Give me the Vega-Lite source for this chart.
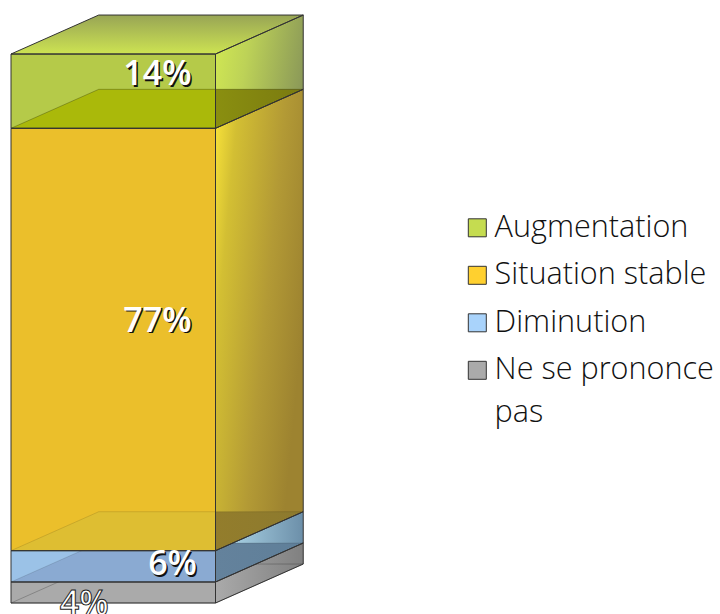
{"$schema":"https://vega.github.io/schema/vega-lite/v6.json","width":720,"height":614,"padding":0,"autosize":{"type":"none"},"background":"white","view":{"stroke":null},
"config":{"style":{"guide-label":{"lineHeight":43}}},
"datasets":{
"bars":[{"segment":"Augmentation","low":86.47,"high":100},{"segment":"Situation stable","low":9.53,"high":86.47},{"segment":"Diminution","low":3.83,"high":9.53},{"segment":"Ne se prononce pas","low":0,"high":3.83}],
"sides":[
{"segment":"Ne se prononce pas","x":1,"low":0,"high":3.83},{"segment":"Ne se prononce pas","x":1.429,"low":7.1,"high":10.93},
{"segment":"Diminution","x":1,"low":3.83,"high":9.53},{"segment":"Diminution","x":1.429,"low":10.93,"high":16.63},
{"segment":"Situation stable","x":1,"low":9.53,"high":86.47},{"segment":"Situation stable","x":1.429,"low":16.63,"high":93.57},
{"segment":"Augmentation","x":1,"low":86.47,"high":100},{"segment":"Augmentation","x":1.429,"low":93.57,"high":107.1}],
"levels":[
{"level":"sol","y":0,"x":0,"x2":1},{"level":"sol","y":7.1,"x":0.429,"x2":1.429},
{"level":"gris","y":3.83,"x":0,"x2":1},{"level":"gris","y":10.93,"x":0.429,"x2":1.429},
{"level":"bleu","y":9.53,"x":0,"x2":1},{"level":"bleu","y":16.63,"x":0.429,"x2":1.429},
{"level":"jaune","y":86.47,"x":0,"x2":1},{"level":"jaune","y":93.57,"x":0.429,"x2":1.429},
{"level":"vert","y":100,"x":0,"x2":1},{"level":"vert","y":107.1,"x":0.429,"x2":1.429}],
"labels":[{"segment":"Augmentation","label":"14%","x":0.716,"y":96.1},{"segment":"Situation stable","label":"77%","x":0.716,"y":51.2},{"segment":"Diminution","label":"6%","x":0.79,"y":6.9},{"segment":"Ne se prononce pas","label":"4%","x":0.358,"y":-0.36}]
},
"layer":[
{"data":{"name":"levels"},"transform":[{"filter":"datum.level=='vert'"}],"mark":{"type":"area","orient":"horizontal","fill":{"gradient":"linear","x1":0,"y1":1,"x2":0,"y2":0,"stops":[{"offset":0,"color":"#cde352"},{"offset":1,"color":"#98a555"}]}},"encoding":{"y":{"field":"y","type":"quantitative","scale":{"domain":[-2,109.84],"nice":false,"zero":false},"axis":null},"x":{"field":"x","type":"quantitative","scale":{"domain":[-0.0538,3.467],"nice":false,"zero":false},"axis":null},"x2":{"field":"x2"}}},
{"data":{"name":"sides"},"transform":[{"filter":"datum.segment=='Augmentation'"}],"mark":{"type":"area","fill":{"gradient":"linear","x1":0,"y1":0.3,"x2":1,"y2":0.5,"stops":[{"offset":0,"color":"#cfe653"},{"offset":0.35,"color":"#bdd257"},{"offset":1,"color":"#8c9a58"}]}},"encoding":{"x":{"field":"x","type":"quantitative"},"y":{"field":"low","type":"quantitative"},"y2":{"field":"high"}}},
{"data":{"name":"sides"},"transform":[{"filter":"datum.segment=='Situation stable'"}],"mark":{"type":"area","fill":{"gradient":"linear","x1":0,"y1":0,"x2":1,"y2":0.5,"stops":[{"offset":0,"color":"#fce63a"},{"offset":0.22,"color":"#d3bf33"},{"offset":0.65,"color":"#b39a35"},{"offset":1,"color":"#9d8330"}]}},"encoding":{"x":{"field":"x","type":"quantitative"},"y":{"field":"low","type":"quantitative"},"y2":{"field":"high"}}},
{"data":{"name":"sides"},"transform":[{"filter":"datum.segment=='Diminution'"}],"mark":{"type":"area","fill":{"gradient":"linear","x1":0,"y1":0,"x2":1,"y2":0,"stops":[{"offset":0,"color":"#b5dff0"},{"offset":1,"color":"#6c8fa9"}]}},"encoding":{"x":{"field":"x","type":"quantitative"},"y":{"field":"low","type":"quantitative"},"y2":{"field":"high"}}},
{"data":{"name":"sides"},"transform":[{"filter":"datum.segment=='Ne se prononce pas'"}],"mark":{"type":"area","fill":{"gradient":"linear","x1":0,"y1":0,"x2":1,"y2":0,"stops":[{"offset":0,"color":"#aaaaaa"},{"offset":1,"color":"#808080"}]}},"encoding":{"x":{"field":"x","type":"quantitative"},"y":{"field":"low","type":"quantitative"},"y2":{"field":"high"}}},
{"data":{"name":"bars"},"mark":{"type":"rect"},"encoding":{"x":{"datum":0,"type":"quantitative"},"x2":{"datum":1},"y":{"field":"low","type":"quantitative"},"y2":{"field":"high"},"color":{"field":"segment","type":"nominal","scale":{"domain":["Augmentation","Situation stable","Diminution","Ne se prononce pas"],"range":["#c5dc50","#ffd02f","#a9d3fb","#aaaaaa"]},"legend":{"orient":"none","legendX":462,"legendY":212.5,"title":null,"symbolType":"square","symbolSize":324,"symbolStrokeColor":"#333333","symbolStrokeWidth":1,"symbolOpacity":1,"labelFont":"Open Sans","labelFontSize":30.6,"labelFontWeight":300,"labelColor":"#111111","labelLimit":300,"labelOffset":2,"rowPadding":16.5,"labelExpr":"datum.label=='Ne se prononce pas'?['Ne se prononce','pas']:datum.label"}}}},
{"data":{"name":"bars"},"transform":[{"filter":"datum.segment!='Ne se prononce pas'"}],"mark":{"type":"rect","fill":"#000000","opacity":0.08},"encoding":{"x":{"datum":0,"type":"quantitative"},"x2":{"datum":1},"y":{"field":"low","type":"quantitative"},"y2":{"field":"high"}}},
{"data":{"name":"levels"},"transform":[{"filter":"datum.level=='sol'"}],"mark":{"type":"area","orient":"horizontal","stroke":"#000000","strokeOpacity":0.22,"strokeWidth":1,"fillOpacity":0},"encoding":{"y":{"field":"y","type":"quantitative"},"x":{"field":"x","type":"quantitative"},"x2":{"field":"x2"}}},
{"data":{"name":"levels"},"transform":[{"filter":"datum.level=='gris'"}],"mark":{"type":"area","orient":"horizontal","stroke":"#000000","strokeOpacity":0.12,"strokeWidth":1,"fill":{"gradient":"linear","x1":0,"y1":0,"x2":1,"y2":0,"stops":[{"offset":0,"color":"#8aaad2"},{"offset":0.699,"color":"#8aaad2"},{"offset":0.7,"color":"#64829c"},{"offset":1,"color":"#5f7f99"}]}},"encoding":{"y":{"field":"y","type":"quantitative"},"x":{"field":"x","type":"quantitative"},"x2":{"field":"x2"}}},
{"data":{"name":"levels"},"transform":[{"filter":"datum.level=='bleu'"}],"mark":{"type":"area","orient":"horizontal","stroke":"#000000","strokeOpacity":0.12,"strokeWidth":1,"fill":{"gradient":"linear","x1":0,"y1":0,"x2":1,"y2":0,"stops":[{"offset":0,"color":"#debe32"},{"offset":0.699,"color":"#debe32"},{"offset":0.7,"color":"#937d2c"},{"offset":1,"color":"#8d7a2e"}]}},"encoding":{"y":{"field":"y","type":"quantitative"},"x":{"field":"x","type":"quantitative"},"x2":{"field":"x2"}}},
{"data":{"name":"levels"},"transform":[{"filter":"datum.level=='jaune'"}],"mark":{"type":"area","orient":"horizontal","stroke":"#000000","strokeOpacity":0.25,"strokeWidth":1,"fill":{"gradient":"linear","x1":0,"y1":0,"x2":1,"y2":0,"stops":[{"offset":0,"color":"#aab90a"},{"offset":0.699,"color":"#aab90a"},{"offset":0.7,"color":"#8a8f10"},{"offset":1,"color":"#7a7a10"}]}},"encoding":{"y":{"field":"y","type":"quantitative"},"x":{"field":"x","type":"quantitative"},"x2":{"field":"x2"}}},
{"mark":{"type":"rule","stroke":"#000000","strokeOpacity":0.14,"strokeWidth":1},"encoding":{"x":{"datum":0.429,"type":"quantitative"},"y":{"datum":7.1,"type":"quantitative"},"y2":{"datum":107.1}}},
{"data":{"name":"levels"},"transform":[{"filter":"datum.level=='vert'"}],"mark":{"type":"area","orient":"horizontal","fillOpacity":0,"stroke":"#333333","strokeWidth":1},"encoding":{"y":{"field":"y","type":"quantitative"},"x":{"field":"x","type":"quantitative"},"x2":{"field":"x2"}}},
{"data":{"name":"sides"},"mark":{"type":"area","fillOpacity":0,"stroke":"#333333","strokeWidth":1},"encoding":{"detail":{"field":"segment"},"x":{"field":"x","type":"quantitative"},"y":{"field":"low","type":"quantitative"},"y2":{"field":"high"}}},
{"data":{"name":"bars"},"mark":{"type":"rect","fillOpacity":0,"stroke":"#333333","strokeWidth":1},"encoding":{"x":{"datum":0,"type":"quantitative"},"x2":{"datum":1},"y":{"field":"low","type":"quantitative"},"y2":{"field":"high"}}},
{"data":{"name":"labels"},"transform":[{"filter":"datum.label!='4%'"}],"mark":{"type":"text","font":"Open Sans","fontSize":34,"fontWeight":600,"fill":"#111111","dx":1.5,"dy":1.5},"encoding":{"x":{"field":"x","type":"quantitative"},"y":{"field":"y","type":"quantitative"},"text":{"field":"label"}}},
{"data":{"name":"labels"},"transform":[{"filter":"datum.label!='4%'"}],"mark":{"type":"text","font":"Open Sans","fontSize":34,"fontWeight":600,"fill":"#ffffff"},"encoding":{"x":{"field":"x","type":"quantitative"},"y":{"field":"y","type":"quantitative"},"text":{"field":"label"}}},
{"data":{"name":"labels"},"transform":[{"filter":"datum.label=='4%'"}],"mark":{"type":"text","font":"Open Sans","fontSize":34,"fontWeight":600,"fill":"#ffffff","stroke":"#222222","strokeWidth":1},"encoding":{"x":{"field":"x","type":"quantitative"},"y":{"field":"y","type":"quantitative"},"text":{"field":"label"}}}
]}
